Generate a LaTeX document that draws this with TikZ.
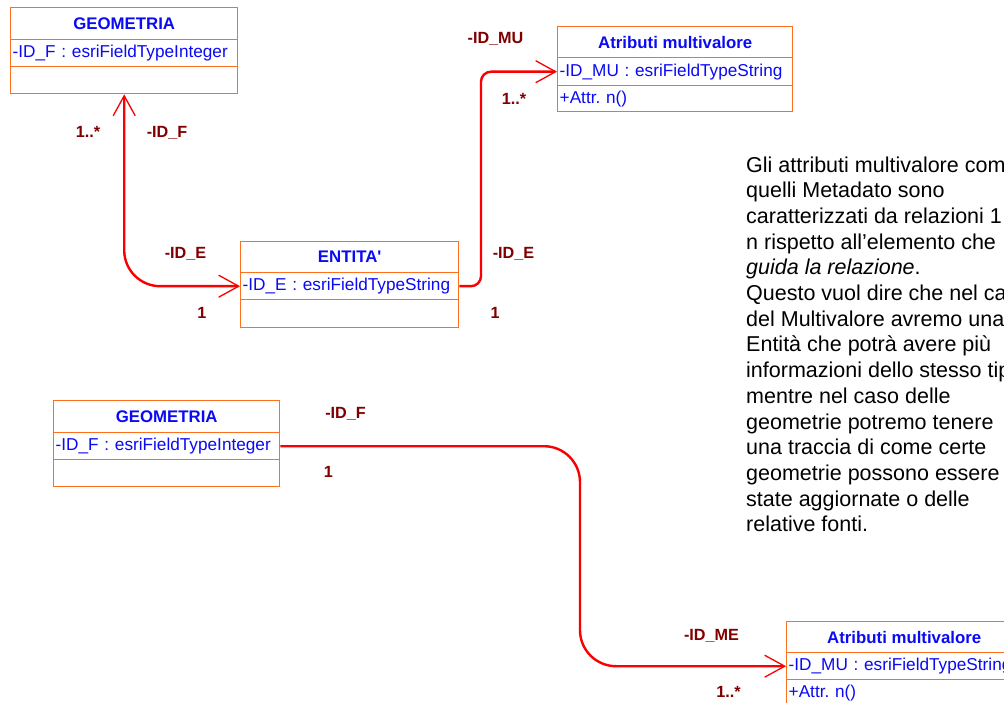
\documentclass[tikz,border=0pt]{standalone}
\usepackage{fontspec}
\setmainfont{Liberation Sans}
\usetikzlibrary{arrows.meta,calc}
\definecolor{boxline}{RGB}{255,112,30}
\definecolor{umlblue}{RGB}{10,10,245}
\definecolor{rolered}{RGB}{128,0,0}
\definecolor{linkred}{RGB}{250,0,0}
\tikzset{barb/.tip={Straight Barb[length=20pt,width=22pt,line width=1.3pt]}}
\frenchspacing
\begin{document}
\begin{tikzpicture}[x=1pt,y=-1pt,
  cell/.style={draw=boxline, line width=1.4pt, inner sep=0pt, anchor=north west,
    minimum width=#1, text=umlblue, font=\fontsize{17.2}{19}\selectfont},
  titlecell/.style={cell=#1, font=\bfseries\fontsize{16.8}{19}\selectfont},
  attrcell/.style={cell=#1, text width=#1-4pt, align=left, inner xsep=2pt},
  role/.style={text=rolered, anchor=base, inner sep=0pt,
    font=\bfseries\fontsize{16.2}{18}\selectfont},
  link/.style={draw=linkred, line width=2.4pt},
]
\useasboundingbox (0,0) rectangle (1004,703);
\fill[white] (0,0) rectangle (1004,703);
\clip (0,0) rectangle (1004,703);

% class GEOMETRIA (upper)
\node[titlecell=227pt, minimum height=32pt] (g1t) at (10,7) {GEOMETRIA};
\node[attrcell=227pt, minimum height=27pt] (g1a) at (10,39) {-ID\_F : esriFieldTypeInteger};
\node[cell=227pt, minimum height=27pt] (g1o) at (10,66) {};

% class Atributi multivalore (upper)
\node[titlecell=235pt, minimum height=31pt] (m1t) at (557,26) {Atributi multivalore};
\node[attrcell=235pt, minimum height=28pt] (m1a) at (557,57) {-ID\_MU : esriFieldTypeString};
\node[attrcell=235pt, minimum height=26pt] (m1o) at (557,85) {+Attr. n()};

% class ENTITA'
\node[titlecell=218pt, minimum height=31pt] (et) at (240,241) {ENTITA\textquotesingle};
\node[attrcell=218pt, minimum height=27pt] (ea) at (240,272) {-ID\_E : esriFieldTypeString};
\node[cell=218pt, minimum height=28pt] (eo) at (240,299) {};

% class GEOMETRIA (lower)
\node[titlecell=226pt, minimum height=32pt] (g2t) at (53,400) {GEOMETRIA};
\node[attrcell=226pt, minimum height=27pt] (g2a) at (53,432) {-ID\_F : esriFieldTypeInteger};
\node[cell=226pt, minimum height=27pt] (g2o) at (53,459) {};

% class Atributi multivalore (lower)
\node[titlecell=235pt, minimum height=31pt] (m2t) at (786,621) {Atributi multivalore};
\node[attrcell=235pt, minimum height=27pt] (m2a) at (786,652) {-ID\_MU : esriFieldTypeString};
\node[attrcell=235pt, minimum height=27pt] (m2o) at (786,679) {+Attr. n()};

% associations
\draw[link, barb-barb, rounded corners=36pt] (g1o.south) |- (ea.west);
\draw[link, -barb] (ea.east) [rounded corners=10pt] -| ($(m1a.west)+(-76,0)$)
  [rounded corners=36pt] -- (m1a.west);
\draw[link, -barb, rounded corners=36pt] (g2a.east) -| ($(m2a.west)+(-206,0)$) -- (m2a.west);

% role names and multiplicities
\node[role] (r1) at (88,138) {1..*};
\node[role] (r2) at (167,138) {-ID\_F};
\node[role] (r3) at (185.5,259) {-ID\_E};
\node[role] (r4) at (202,319) {1};
\node[role] (r5) at (513.5,259) {-ID\_E};
\node[role] (r6) at (495,319) {1};
\node[role] (r7) at (495.5,44) {-ID\_MU};
\node[role] (r8) at (514,105) {1..*};
\node[role] (r9) at (345.5,418) {-ID\_F};
\node[role] (r10) at (328.5,477) {1};
\node[role] (r11) at (711.5,640) {-ID\_ME};
\node[role] (r12) at (728.5,697) {1..*};

% note (anchored on the baseline of its last line)
\node[anchor=base west, align=left, inner sep=0pt,
  font=\fontsize{21.5}{25.7}\selectfont] (note) at (746,531.8)
  {Gli attributi multivalore come\\
   quelli Metadato sono\\
   caratterizzati da relazioni 1 a\\
   n rispetto all’elemento che\\
   \textit{guida la relazione}.\\
   Questo vuol dire che nel caso\\
   del Multivalore avremo una\\
   Entità che potrà avere più\\
   informazioni dello stesso tipo\\
   mentre nel caso delle\\
   geometrie potremo tenere\\
   una traccia di come certe\\
   geometrie possono essere\\
   state aggiornate o delle\\
   relative fonti.};
\end{tikzpicture}
\end{document}
